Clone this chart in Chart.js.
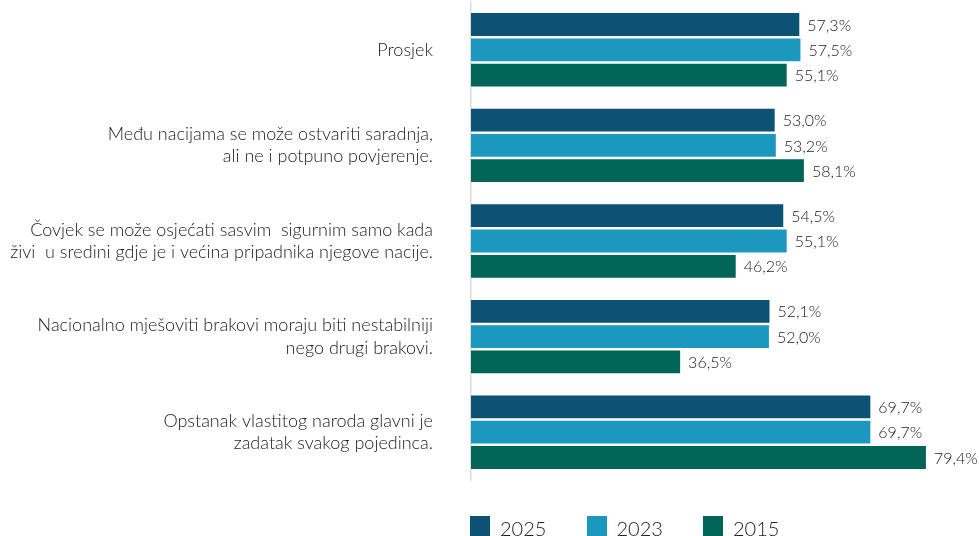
<!DOCTYPE html>
<html>
<head>
<meta charset="utf-8">
<script src="https://cdn.jsdelivr.net/npm/chart.js@4.4.1/dist/chart.umd.min.js"></script>
<style>
  body { margin: 0; background: #fff; overflow: hidden; }
  .wrap { position: relative; width: 979px; height: 536px; }
  #legend { position: absolute; left: 470px; top: 516px; display: flex; font-family: Lato, sans-serif; font-weight: 300; font-size: 20px; line-height: 20px; color: #222; }
  #legend .item { display: flex; align-items: flex-start; width: 116.5px; flex: none; }
  #legend .box { width: 20px; height: 20px; margin-right: 10px; }
  #legend .txt { margin-top: 1.5px; }
</style>
</head>
<body>
<div class="wrap">
  <canvas id="chart" width="979" height="536"></canvas>
  <div id="legend"></div>
</div>
<script>
const FONT = 'Lato, sans-serif';

const categories = [
    'Prosjek',
    ['Među nacijama se može ostvariti saradnja,', 'ali ne i potpuno povjerenje.'],
    ['Čovjek se može osjećati sasvim  sigurnim samo kada', 'živi  u sredini gdje je i većina pripadnika njegove nacije.'],
    ['Nacionalno mješoviti brakovi moraju biti nestabilniji', 'nego drugi brakovi.'],
    ['Opstanak vlastitog naroda glavni je', 'zadatak svakog pojedinca.']
];
const seriesNames = ['2025', '2023', '2015'];
const values2025 = [57.3, 53.0, 54.5, 52.1, 69.7];
const values2023 = [57.5, 53.2, 55.1, 52.0, 69.7];
const values2015 = [55.1, 58.1, 46.2, 36.5, 79.4];
const colors = ['#0b5274', '#1c97bd', '#006457'];

// value labels at the end of each bar, e.g. 57,3%
const barLabels = {
    id: 'barLabels',
    afterDatasetsDraw(chart) {
        const ctx = chart.ctx;
        ctx.save();
        ctx.font = '300 16px ' + FONT;
        ctx.fillStyle = '#222';
        ctx.textAlign = 'left';
        ctx.textBaseline = 'middle';
        chart.data.datasets.forEach((ds, i) => {
            chart.getDatasetMeta(i).data.forEach((bar, j) => {
                const txt = ds.data[j].toFixed(1).replace('.', ',') + '%';
                ctx.fillText(txt, bar.x + 8, bar.y + 1);
            });
        });
        ctx.restore();
    }
};

const chart = new Chart(document.getElementById('chart'), {
    type: 'bar',
    data: {
        labels: categories,
        datasets: [
            { label: seriesNames[0], data: values2025, backgroundColor: colors[0] },
            { label: seriesNames[1], data: values2023, backgroundColor: colors[1] },
            { label: seriesNames[2], data: values2015, backgroundColor: colors[2] }
        ]
    },
    options: {
        indexAxis: 'y',
        responsive: false,
        animation: false,
        devicePixelRatio: 1,
        categoryPercentage: 0.794,
        barPercentage: 0.9,
        layout: { padding: { top: 2, right: 21, bottom: 56, left: 0 } },
        scales: {
            x: { display: false, min: 0, max: 85 },
            y: {
                afterFit: scale => {
                    scale.width = 471;
                    scale.paddingTop = 0;
                    scale.paddingBottom = 0;
                },
                grid: { display: false, drawTicks: false },
                border: { display: true, color: '#dcdcdc', width: 1.5 },
                ticks: {
                    padding: 38,
                    color: '#222',
                    font: { family: FONT, size: 18, weight: 300, lineHeight: 1.25 }
                }
            }
        },
        plugins: {
            legend: { display: false },
            tooltip: { enabled: false }
        }
    },
    plugins: [barLabels]
});

// HTML legend built from the datasets
const legendEl = document.getElementById('legend');
chart.data.datasets.forEach(ds => {
    const item = document.createElement('div');
    item.className = 'item';
    item.innerHTML = '<span class="box" style="background:' + ds.backgroundColor + '"></span><span class="txt">' + ds.label + '</span>';
    legendEl.appendChild(item);
});
</script>
</body>
</html>
